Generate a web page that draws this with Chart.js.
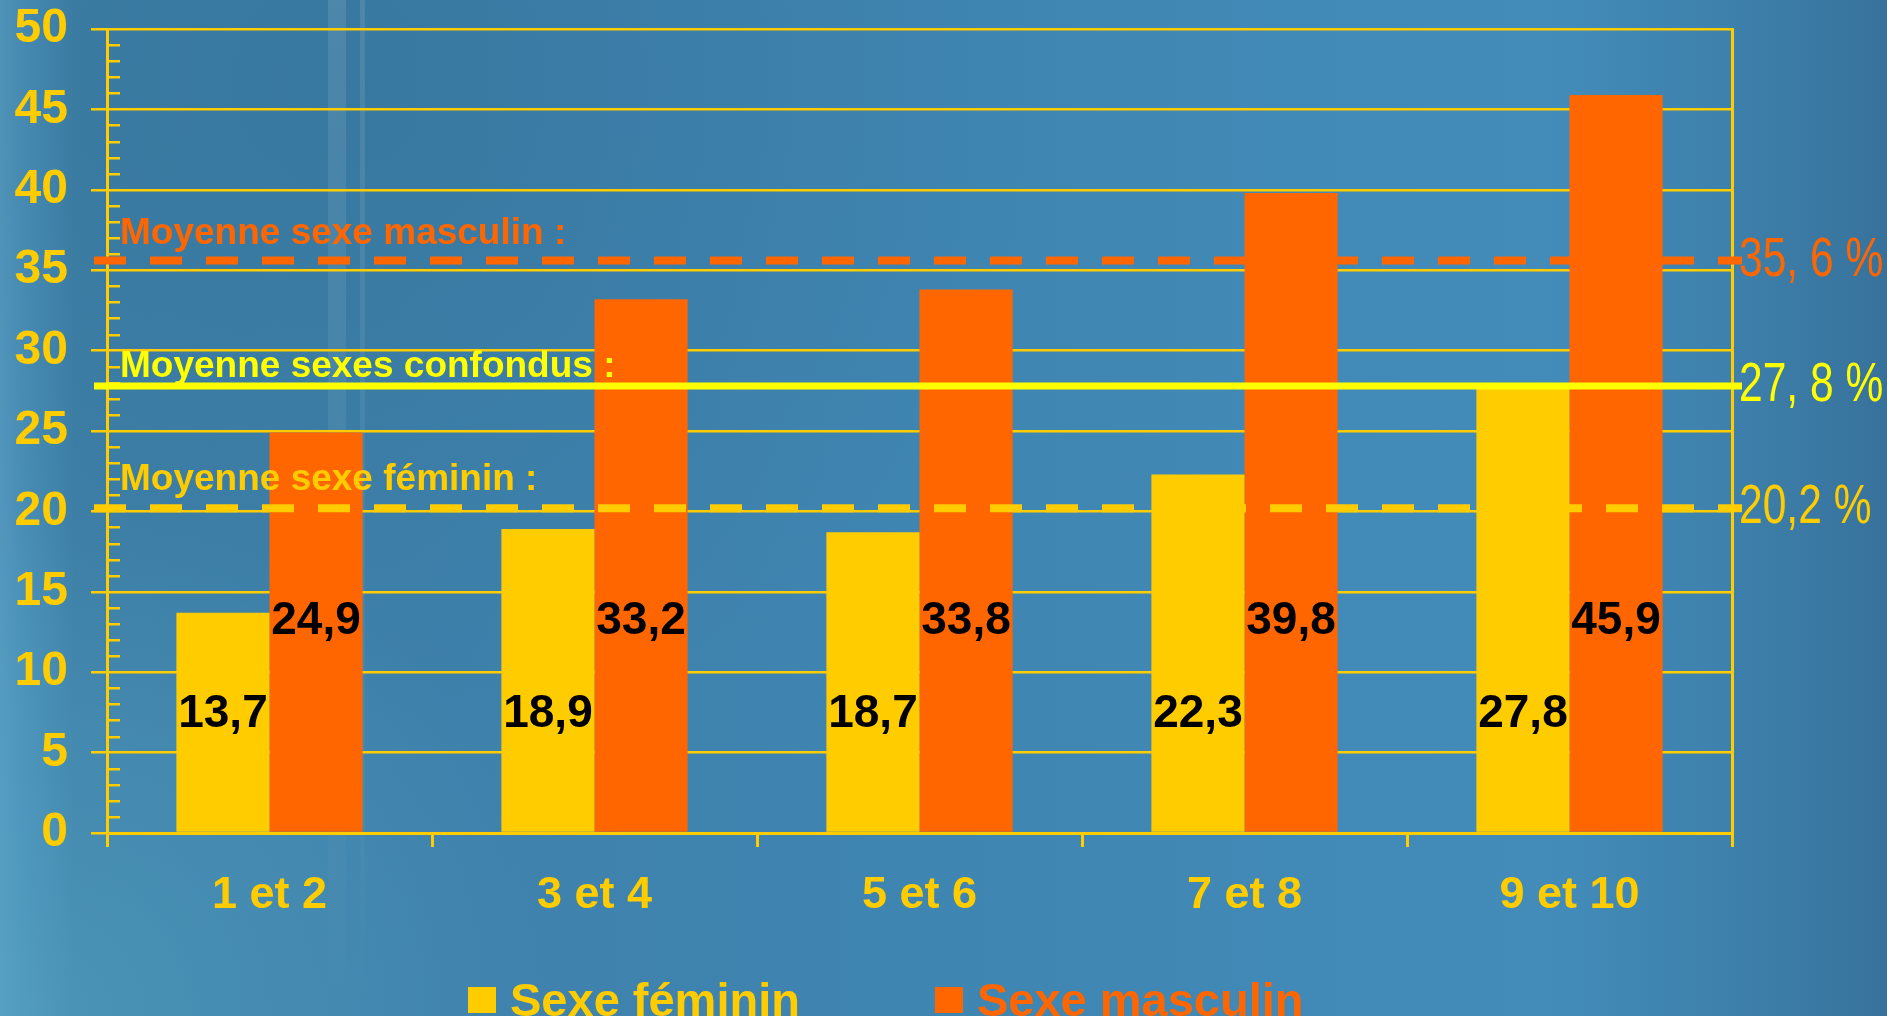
<!DOCTYPE html>
<html>
<head>
<meta charset="utf-8">
<script src="https://cdn.jsdelivr.net/npm/chart.js@4/dist/chart.umd.min.js"></script>
<style>
  html, body { margin: 0; padding: 0; overflow: hidden; background: #3f85b2; }
  #wrap { width: 1887px; height: 1016px; position: relative; }
  canvas { display: block; }
</style>
</head>
<body>
<div id="wrap"><canvas id="chart" width="1887" height="1016"></canvas></div>
<script>
// Age groups on the x axis
const categories = ['1 et 2', '3 et 4', '5 et 6', '7 et 8', '9 et 10'];
// Percentages per group
const femaleValues = [13.7, 18.9, 18.7, 22.3, 27.8];
const maleValues = [24.9, 33.2, 33.8, 39.8, 45.9];
const seriesNames = ['Sexe féminin', 'Sexe masculin'];
// Y axis ticks
const yTickValues = [0, 5, 10, 15, 20, 25, 30, 35, 40, 45, 50];
// Reference averages
const meanTitles = ['Moyenne sexe masculin :', 'Moyenne sexes confondus :', 'Moyenne sexe féminin :'];
const meanValues = [35.6, 27.8, 20.2];
const meanLabels = ['35, 6 %', '27, 8 %', '20,2 %'];

const YELLOW = '#ffcc00';
const ORANGE = '#ff6600';
const BRIGHT = '#ffff00';
const FONT = "'Liberation Sans', Arial, Helvetica, sans-serif";

// Styling for each average line (same order as meanValues)
const meanStyles = [
  { color: ORANGE, dash: [32, 24], width: 8, titleGap: 17 },
  { color: BRIGHT, dash: [], width: 7, titleGap: 9 },
  { color: YELLOW, dash: [32, 24], width: 8, titleGap: 18 }
];

const fmt = v => v.toFixed(1).replace('.', ',');

const backgroundPlugin = {
  id: 'bluebackdrop',
  beforeDraw(chart) {
    const { ctx, width, height } = chart;
    ctx.save();
    let g = ctx.createLinearGradient(0, 0, width, 0);
    g.addColorStop(0, '#5499bf');
    g.addColorStop(0.012, '#4a90b8');
    g.addColorStop(0.04, '#3e80a8');
    g.addColorStop(0.3, '#3e82ad');
    g.addColorStop(0.6, '#4087b4');
    g.addColorStop(0.82, '#438cba');
    g.addColorStop(0.92, '#3d80ab');
    g.addColorStop(1, '#37729c');
    ctx.fillStyle = g;
    ctx.fillRect(0, 0, width, height);
    // darker haze in the upper-left part
    g = ctx.createRadialGradient(350, 80, 20, 350, 80, 700);
    g.addColorStop(0, 'rgba(25,75,105,0.16)');
    g.addColorStop(1, 'rgba(25,75,105,0)');
    ctx.fillStyle = g;
    ctx.fillRect(0, 0, width, height);
    // lighter teal toward the bottom-left
    g = ctx.createRadialGradient(40, height, 10, 40, height, 520);
    g.addColorStop(0, 'rgba(90,170,200,0.45)');
    g.addColorStop(1, 'rgba(90,170,200,0)');
    ctx.fillStyle = g;
    ctx.fillRect(0, 0, width, height);
    // faint vertical light streaks
    g = ctx.createLinearGradient(0, 0, 0, height);
    g.addColorStop(0, 'rgba(255,255,255,0.10)');
    g.addColorStop(0.8, 'rgba(255,255,255,0.03)');
    g.addColorStop(1, 'rgba(255,255,255,0)');
    ctx.fillStyle = g;
    ctx.fillRect(328, 0, 18, height);
    ctx.fillRect(360, 0, 5, height);
    ctx.restore();
  }
};

const overlayPlugin = {
  id: 'overlay',
  afterDatasetsDraw(chart, args, opts) {
    const { ctx, chartArea } = chart;
    const y = chart.scales.y;
    ctx.save();

    // minor ticks on the inner side of the value axis
    ctx.strokeStyle = YELLOW;
    ctx.lineWidth = 2.5;
    for (let v = 0; v <= 50; v++) {
      if (v % 5 === 0) continue;
      const py = Math.round(y.getPixelForValue(v)) + 0.25;
      ctx.beginPath();
      ctx.moveTo(chartArea.left, py);
      ctx.lineTo(chartArea.left + 13, py);
      ctx.stroke();
    }

    // value labels inside the bars
    ctx.fillStyle = '#000';
    ctx.font = 'bold 46px ' + FONT;
    ctx.textAlign = 'center';
    ctx.textBaseline = 'alphabetic';
    chart.data.datasets.forEach((ds, i) => {
      const meta = chart.getDatasetMeta(i);
      const cy = y.getPixelForValue(opts.labelLevels[i]);
      meta.data.forEach((bar, j) => {
        ctx.fillText(fmt(ds.data[j]), bar.x, cy + 16);
      });
    });

    // average lines with their titles and values
    const x0 = chartArea.left - 13;
    const x1 = chartArea.right + 10;
    meanValues.forEach((m, i) => {
      const st = meanStyles[i];
      const py = y.getPixelForValue(m);
      ctx.strokeStyle = st.color;
      ctx.lineWidth = st.width;
      ctx.setLineDash(st.dash);
      ctx.beginPath();
      ctx.moveTo(x0, py);
      ctx.lineTo(x1, py);
      ctx.stroke();
      ctx.setLineDash([]);

      ctx.fillStyle = st.color;
      ctx.font = 'bold 37px ' + FONT;
      ctx.textAlign = 'left';
      ctx.fillText(meanTitles[i], chartArea.left + 13, py - st.titleGap);

      ctx.save();
      ctx.translate(chartArea.right + 7, py + 15);
      ctx.scale(0.76, 1);
      ctx.font = '56px ' + FONT;
      ctx.fillText(meanLabels[i], 0, 0);
      ctx.restore();
    });

    // legend along the bottom edge
    ctx.font = 'bold 47px ' + FONT;
    ctx.textAlign = 'left';
    let lx = 468;
    chart.data.datasets.forEach((ds) => {
      ctx.fillStyle = ds.backgroundColor;
      ctx.fillRect(lx, 987, 28, 26);
      ctx.fillText(ds.label, lx + 42, 1016);
      lx += 42 + ctx.measureText(ds.label).width + 135;
    });

    ctx.restore();
  }
};

new Chart(document.getElementById('chart'), {
  type: 'bar',
  data: {
    labels: categories,
    datasets: [
      { label: seriesNames[0], data: femaleValues, backgroundColor: YELLOW, borderWidth: 0 },
      { label: seriesNames[1], data: maleValues, backgroundColor: ORANGE, borderWidth: 0 }
    ]
  },
  options: {
    responsive: false,
    animation: false,
    devicePixelRatio: 1,
    layout: { padding: { left: 0, right: 155, top: 29, bottom: 0 } },
    datasets: { bar: { categoryPercentage: 0.573, barPercentage: 1 } },
    plugins: {
      legend: { display: false },
      tooltip: { enabled: false },
      overlay: { labelLevels: [7.6, 13.4] }
    },
    scales: {
      x: {
        offset: true,
        grid: { display: true, offset: true, drawOnChartArea: false, drawTicks: true, tickLength: 14, color: YELLOW, lineWidth: 3 },
        border: { display: true, color: YELLOW, width: 3 },
        ticks: { color: YELLOW, font: { family: FONT, size: 45, weight: 'bold' }, padding: 22, maxRotation: 0, autoSkip: false },
        afterFit(s) { s.height = 183; s.paddingLeft = 0; s.paddingRight = 0; }
      },
      y: {
        min: 0, max: 50,
        afterBuildTicks(s) { s.ticks = yTickValues.map(v => ({ value: v })); },
        grid: { color: YELLOW, lineWidth: 2.5, tickLength: 16, drawTicks: true },
        border: { display: true, color: YELLOW, width: 3 },
        ticks: { color: YELLOW, font: { family: FONT, size: 48, weight: 'bold' }, padding: 23 },
        afterFit(s) { s.width = 107; s.paddingTop = 0; s.paddingBottom = 0; }
      },
      yR: {
        position: 'right', min: 0, max: 50,
        ticks: { display: false },
        grid: { drawOnChartArea: false, drawTicks: false },
        border: { display: true, color: YELLOW, width: 3 },
        afterFit(s) { s.width = 0; s.paddingTop = 0; s.paddingBottom = 0; }
      }
    }
  },
  plugins: [backgroundPlugin, overlayPlugin]
});
</script>
</body>
</html>
